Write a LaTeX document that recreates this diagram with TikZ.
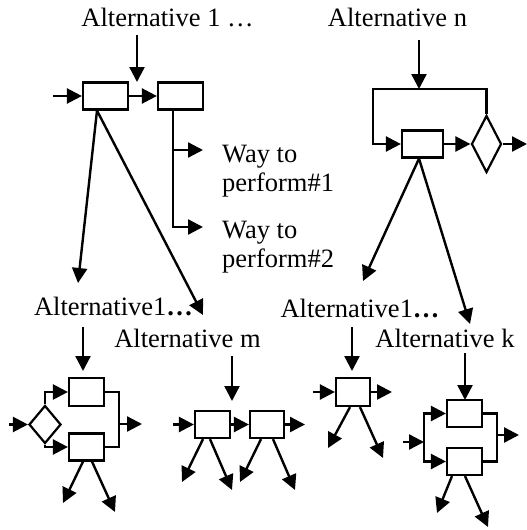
\documentclass[tikz,border=0pt]{standalone}
\usepackage{fontspec}
\setmainfont{Liberation Serif}
\usetikzlibrary{arrows.meta,shapes.geometric,calc}
\begin{document}
\begin{tikzpicture}[x=1pt,y=-1pt,
  ln/.style={line width=2.4pt},
  arr/.style={line width=2.4pt,-{Triangle[length=15pt,width=15pt]}},
  bx/.style={draw,line width=2.2pt,rectangle,inner sep=0pt,minimum width=45pt,minimum height=27pt},
  sbx/.style={draw,line width=2.2pt,rectangle,inner sep=0pt,minimum width=35pt,minimum height=27pt},
  dia/.style={draw,line width=2.2pt,diamond,inner sep=0pt},
  lbl/.style={font=\fontsize{26.5}{29}\selectfont,inner sep=0pt,anchor=base},
  way/.style={font=\fontsize{26.5}{29}\selectfont,inner sep=0pt,anchor=north west,align=left},
]
\useasboundingbox (0,0) rectangle (527,530);

% ---------- top left ----------
\node[lbl] (L1) at (167.5,27) {Alternative 1 …};
\node[bx] (A1) at (105.5,96) {};
\node[bx] (A2) at (180.5,96) {};
\coordinate (t1) at (137,35);
\coordinate (t1e) at (137,82);
\draw[arr] (t1) -- (t1e);
\coordinate (a1in) at (53,96);
\draw[arr] (a1in) -- (A1.west);
\draw[arr] (A1) -- (A2);
\coordinate (b1) at ($(A2.south)+(-7.5,0)$);
\coordinate (w1a) at (203,150);
\coordinate (w2a) at (203,227);
\draw[arr] (b1) |- (w2a);
\draw[arr] (b1 |- w1a) -- (w1a);
\node[way] (W1) at (222,144.5) {Way to\\perform\#1};
\node[way] (W2) at (222,220.5) {Way to\\perform\#2};
\coordinate (s1) at ($(A1.south)+(-8.5,0)$);
\coordinate (tipL) at (78,283);
\coordinate (tipR) at (203,315);
\draw[arr] (s1) -- (tipL);
\draw[arr] (s1) -- (tipR);

% ---------- top right ----------
\node[lbl] (Ln) at (397.5,27) {Alternative n};
\node[bx,minimum width=41pt] (N) at (422.5,144) {};
\node[dia,minimum width=30pt,minimum height=57pt] (D) at (486.5,144) {};
\coordinate (tn) at (419,40);
\coordinate (tne) at (419,89);
\draw[arr] (tn) -- (tne);
\coordinate (lp) at (373,89);
\draw[arr] (D.north) |- (lp) |- (N.west);
\draw[arr] (N) -- (D);
\coordinate (dout) at (527,144);
\draw[arr] (D.east) -- (dout);
\coordinate (s2) at ($(N.south)+(-3.5,0)$);
\coordinate (tipL2) at (363,281);
\coordinate (tipR2) at (470,324);
\draw[arr] (s2) -- (tipL2);
\draw[arr] (s2) -- (tipR2);

% ---------- group 1 (bottom left) ----------
\node[lbl] (G1) at (113.5,315) {Alternative1\textbf{…}};
\node[sbx,minimum height=28pt] (B1) at (86.5,392) {};
\node[sbx] (B2) at (86.5,447) {};
\node[dia,minimum width=32pt,minimum height=38pt] (D1) at (45,424.5) {};
\coordinate (g1t) at (83,327);
\coordinate (g1te) at (83,371);
\draw[arr] (g1t) -- (g1te);
\coordinate (g1in) at (9,424.5);
\draw[arr] (g1in) -- (D1.west);
\draw[arr] (D1.north) |- (B1.west);
\draw[arr] (D1.south) |- (B2.west);
\coordinate (j1) at (119,424);
\coordinate (j1o) at (142,424);
\draw[ln] (B1.east) -| (j1) |- (B2.east);
\draw[arr] (j1) -- (j1o);
\coordinate (g1s1) at ($(B2.south)+(-3.5,0)$);
\coordinate (g1s2) at ($(B2.south)+(5.5,0)$);
\coordinate (g1e1) at (63,503);
\coordinate (g1e2) at (115,512);
\draw[arr] (g1s1) -- (g1e1);
\draw[arr] (g1s2) -- (g1e2);

% ---------- group 2 (alternative m) ----------
\node[lbl] (G2) at (187.5,347) {Alternative m};
\node[sbx] (M1) at (212.5,424.5) {};
\node[sbx,minimum width=34pt] (M2) at (267,424.5) {};
\coordinate (g2t) at (232,356);
\coordinate (g2te) at (232,401);
\draw[arr] (g2t) -- (g2te);
\coordinate (g2in) at (173,424.5);
\draw[arr] (g2in) -- (M1.west);
\draw[arr] (M1) -- (M2);
\coordinate (g2out) at (305,424.5);
\draw[arr] (M2.east) -- (g2out);
\coordinate (m1s1) at ($(M1.south)+(-9.5,0)$);
\coordinate (m1s2) at ($(M1.south)+(-2.5,0)$);
\coordinate (m2s1) at ($(M2.south)+(-6,0)$);
\coordinate (m2s2) at ($(M2.south)+(6,0)$);
\coordinate (m1e1) at (182,482);
\coordinate (m1e2) at (232,490);
\coordinate (m2e1) at (240,482);
\coordinate (m2e2) at (295,490);
\draw[arr] (m1s1) -- (m1e1);
\draw[arr] (m1s2) -- (m1e2);
\draw[arr] (m2s1) -- (m2e1);
\draw[arr] (m2s2) -- (m2e2);

% ---------- group 3 ----------
\node[lbl] (G3) at (360,317) {Alternative1\textbf{…}};
\node[sbx,minimum width=34pt,minimum height=28pt] (C1) at (353,392) {};
\coordinate (g3t) at (352,327);
\coordinate (g3te) at (352,371);
\draw[arr] (g3t) -- (g3te);
\coordinate (g3in) at (313,392);
\draw[arr] (g3in) -- (C1.west);
\coordinate (g3out) at (392,392);
\draw[arr] (C1.east) -- (g3out);
\coordinate (c1s1) at ($(C1.south)+(-3,0)$);
\coordinate (c1s2) at ($(C1.south)+(7,0)$);
\coordinate (c1e1) at (328,448);
\coordinate (c1e2) at (383,458);
\draw[arr] (c1s1) -- (c1e1);
\draw[arr] (c1s2) -- (c1e2);

% ---------- group 4 (alternative k) ----------
\node[lbl] (G4) at (445,347) {Alternative k};
\node[sbx] (K1) at (464.5,413.5) {};
\node[sbx] (K2) at (464.5,461.5) {};
\coordinate (g4t) at (465,353);
\coordinate (g4te) at (465,400);
\draw[arr] (g4t) -- (g4te);
\coordinate (g4in) at (403,442);
\coordinate (f) at (424,442);
\draw[arr] (g4in) -- (f);
\draw[arr] (f) |- (K1.west);
\draw[arr] (f) |- (K2.west);
\coordinate (j4) at (497,435);
\coordinate (j4o) at (519,435);
\draw[ln] (K1.east) -| (j4) |- (K2.east);
\draw[arr] (j4) -- (j4o);
\coordinate (k2s1) at ($(K2.south)+(-12.5,0)$);
\coordinate (k2s2) at ($(K2.south)+(0.5,0)$);
\coordinate (k2e1) at (437,513);
\coordinate (k2e2) at (488,527);
\draw[arr] (k2s1) -- (k2e1);
\draw[arr] (k2s2) -- (k2e2);
\end{tikzpicture}
\end{document}
